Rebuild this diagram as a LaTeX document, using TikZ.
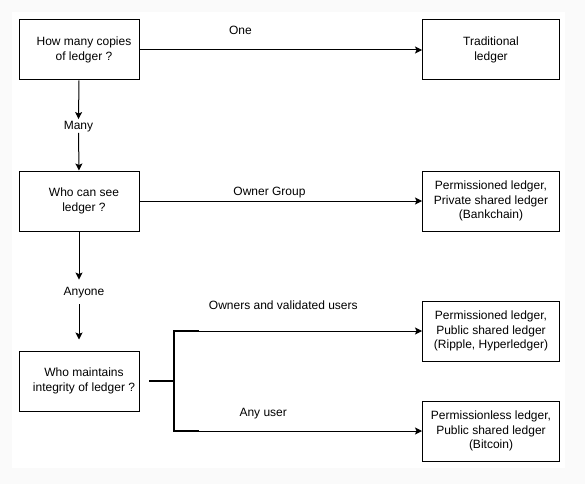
\documentclass[tikz,border=0pt]{standalone}
\usepackage{fontspec}
\setmainfont{Liberation Sans}
\usepackage{xcolor}
\usepackage{tikz}
\usetikzlibrary{positioning}
\usetikzlibrary{arrows.meta}

\definecolor{pagegray}{RGB}{250,250,250}

\tikzset{
  txt/.style={font=\fontsize{12}{14.4}\selectfont},
  question/.style={txt, draw, line width=1pt, minimum width=120pt, minimum height=60pt, align=center, inner sep=2pt},
  outcome/.style={question, minimum width=137pt},
  lbl/.style={txt, text height=9pt, text depth=2.5pt, inner sep=1pt},
  flow/.style={-{Stealth[length=7pt, width=7pt, inset=1.5pt]}, line width=1pt},
  fork/.style={line width=2pt},
}

\begin{document}
\begin{tikzpicture}[x=1pt, y=-1pt]
\useasboundingbox (0,0) rectangle (585,484);
\fill[pagegray] (0,0) rectangle (585,484);
\fill[white] (12,12) rectangle (565,468);

\node (q1) at (79,50) [question] {\hspace*{10pt}How many copies\\\hspace*{10pt}of ledger ?};
\node (q2) at (79,201) [question] {\hspace*{10pt}Who can see\\\hspace*{10pt}ledger ?};
\node (q3) at (79,381) [question] {\hspace*{10pt}Who maintains\\\hspace*{10pt}integrity of ledger ?};

\node (t1) at (491,50) [outcome] {Traditional\\ledger};
\node (t2) at (491,201) [outcome] {Permissioned ledger,\\Private shared ledger\\(Bankchain)};
\node (t3) at (491,331) [outcome] {Permissioned ledger,\\Public shared ledger\\(Ripple, Hyperledger)};
\node (t4) at (491,431) [outcome] {Permissionless ledger,\\Public shared ledger\\(Bitcoin)};

\node (many) at (78.5,126) [lbl] {Many};
\node (anyone) at (84,292.5) [lbl] {Anyone};

\coordinate (forkin) at (149,381);
\coordinate (forkmid) at (174,381);
\coordinate (forktop) at (174,331);
\coordinate (forkbot) at (174,431);
\coordinate (toptip) at (199,331);
\coordinate (bottip) at (199,431);

\draw[flow] (q1) -- node[lbl, pos=0.357, yshift=18.5pt] {One} (t1);
\draw[flow] (q2) -- node[lbl, pos=0.46, yshift=8.5pt] {Owner Group} (t2);

\draw[flow] (q1.south) -- (many.north);
\draw[flow] (many.south) -- (q2.north);
\draw[flow, shorten >=6pt] (q2.south) -- (q2.south |- anyone.north);
\draw[flow, shorten <=5pt, shorten >=11pt] (q2.south |- anyone.south) -- (q3.north);

\draw[fork] (forkin) -- (forkmid);
\draw[fork] (toptip) -- (forktop) -- (forkbot) -- (bottip);
\draw[flow] (toptip) -- node[lbl, pos=0.378, yshift=25pt] {Owners and validated users} (t3);
\draw[flow] (bottip) -- node[lbl, pos=0.288, yshift=17.5pt] {Any user} (t4);
\end{tikzpicture}
\end{document}
